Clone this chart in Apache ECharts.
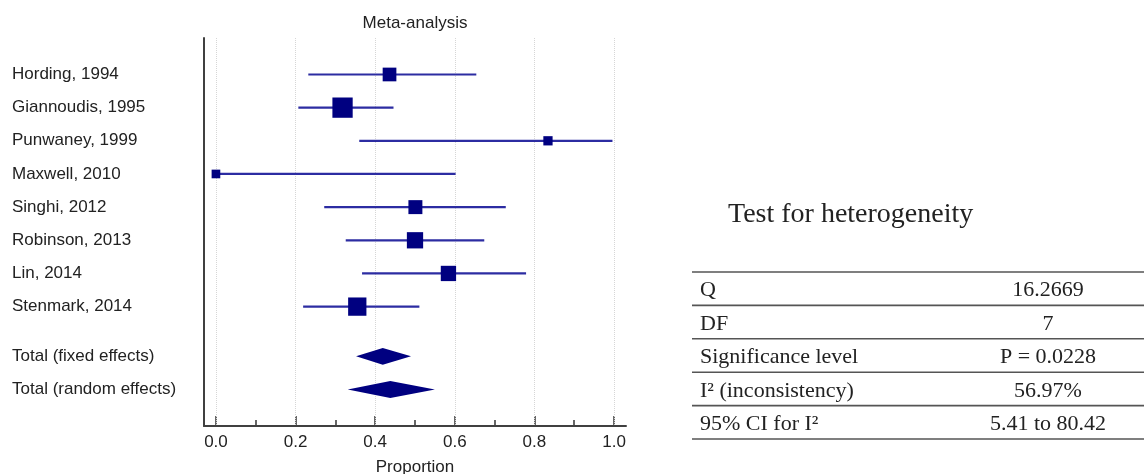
<!DOCTYPE html>
<html>
<head>
<meta charset="utf-8">
<script src="https://cdn.jsdelivr.net/npm/echarts@6/dist/echarts.min.js"></script>
<style>
html,body{margin:0;padding:0;background:#fff;}
#chart{width:1144px;height:474px;}
</style>
</head>
<body>
<div id="chart"></div>
<script>
// ---- data ----
const studies = ['Hording, 1994','Giannoudis, 1995','Punwaney, 1999','Maxwell, 2010','Singhi, 2012','Robinson, 2013','Lin, 2014','Stenmark, 2014'];
const estimate = [0.436, 0.318, 0.834, 0.000, 0.501, 0.500, 0.584, 0.355];
const ciLow    = [0.232, 0.207, 0.360, 0.000, 0.272, 0.326, 0.367, 0.219];
const ciHigh   = [0.654, 0.446, 0.996, 0.602, 0.728, 0.674, 0.779, 0.511];
const weights  = [10.5, 23.0, 4.8, 4.2, 10.9, 14.8, 13.1, 18.7];
const totals   = ['Total (fixed effects)','Total (random effects)'];
const totalEst = [0.419, 0.438];
const totalLow = [0.352, 0.331];
const totalHigh= [0.490, 0.550];
const majorTicks = [0, 0.2, 0.4, 0.6, 0.8, 1.0];
const minorTicks = [0.1, 0.3, 0.5, 0.7, 0.9];
const tableLabels = ['Q','DF','Significance level','I\u00B2 (inconsistency)','95% CI for I\u00B2'];
const tableValues = ['16.2669','7','P = 0.0228','56.97%','5.41 to 80.42'];

// ---- layout helpers ----
const studyRows = studies.map((_, i) => i);
const totalRows = totals.map((_, j) => 8.5 + j);
const rowNames = {};
studyRows.forEach((r, i) => rowNames[r] = studies[i]);
totalRows.forEach((r, j) => rowNames[r] = totals[j]);

const navy = '#000080';
const ciColor = '#2c2ca2';
const axisColor = '#404040';
const sans = '"Liberation Sans", Arial, sans-serif';
const serif = '"Liberation Serif", "Times New Roman", serif';

const chart = echarts.init(document.getElementById('chart'), null, {renderer: 'canvas'});

const studyData = studies.map((_, i) => [estimate[i], ciLow[i], ciHigh[i], studyRows[i], weights[i]]);
const totalData = totals.map((_, j) => [totalEst[j], totalLow[j], totalHigh[j], totalRows[j]]);

// table graphics
const tg = [];
const tableX0 = 692, tableX1 = 1144, ruleTop = 272, rowH = 33.4, valueX = 1048;
tg.push({type:'text', left: 728, top: 201, style:{text:'Test for heterogeneity', font:'28px ' + serif, fill:'#222'}});
for (let k = 0; k <= tableLabels.length; k++) {
  const y = ruleTop + k * rowH;
  tg.push({type:'line', shape:{x1:tableX0, y1:y, x2:tableX1, y2:y}, style:{stroke:'#555', lineWidth:1.6}});
}
tableLabels.forEach((lab, k) => {
  const yc = ruleTop + (k + 0.5) * rowH + 2;
  tg.push({type:'text', x: 700, y: yc, style:{text: lab, font:'22px ' + serif, fill:'#222', textAlign:'left', textVerticalAlign:'middle'}});
  tg.push({type:'text', x: valueX, y: yc, style:{text: tableValues[k], font:'22px ' + serif, fill:'#222', textAlign:'center', textVerticalAlign:'middle'}});
});
tg.push({type:'text', x: 415, y: 23, style:{text:'Meta-analysis', font:'17px ' + sans, fill:'#222', textAlign:'center', textVerticalAlign:'middle'}});

const option = {
  animation: false,
  backgroundColor: '#fff',
  grid: {left: 204, right: 518, top: 38, bottom: 48, containLabel: false, outerBoundsMode: 'none'},
  xAxis: [{
    type: 'value', min: -0.03, max: 1.03,
    name: 'Proportion', nameLocation: 'middle', nameGap: 33,
    nameTextStyle: {fontFamily: sans, fontSize: 17, color: '#222'},
    axisLine: {show: true, onZero: false, lineStyle: {color: axisColor, width: 2}},
    axisTick: {show: true, inside: true, length: 10, customValues: majorTicks, lineStyle: {color: axisColor, width: 1.6}},
    axisLabel: {show: true, customValues: majorTicks, margin: 8, fontFamily: sans, fontSize: 17, color: '#222',
      formatter: v => v.toFixed(1)},
    splitLine: {show: false}
  }, {
    type: 'value', min: -0.03, max: 1.03, position: 'bottom',
    axisLine: {show: false, onZero: false},
    axisTick: {show: true, inside: true, length: 6, customValues: minorTicks, lineStyle: {color: axisColor, width: 1.6}},
    axisLabel: {show: false},
    splitLine: {show: false}
  }],
  yAxis: {
    type: 'value', inverse: true, min: -1.1, max: 10.6,
    axisLine: {show: true, onZero: false, lineStyle: {color: axisColor, width: 2}},
    axisTick: {show: false},
    splitLine: {show: false},
    axisLabel: {show: true, customValues: studyRows.concat(totalRows), align: 'left', margin: 192,
      fontFamily: sans, fontSize: 17, color: '#222',
      formatter: v => rowNames[v] || ''}
  },
  graphic: tg,
  series: [
    {
      type: 'scatter', data: [], z: 0, silent: true,
      markLine: {
        z: 1, silent: true, symbol: ['none','none'], label: {show: false},
        lineStyle: {type: 'dotted', color: '#d6d6d6', width: 1},
        data: majorTicks.map(v => ({xAxis: v}))
      }
    },
    {
      type: 'custom', z: 3, data: studyData, clip: false,
      renderItem: function (params, api) {
        const est = api.value(0), lo = api.value(1), hi = api.value(2), row = api.value(3), w = api.value(4);
        const pLo = api.coord([lo, row]), pHi = api.coord([hi, row]), pC = api.coord([est, row]);
        const s = 4.23 * Math.sqrt(w);
        return {type: 'group', children: [
          {type: 'line', shape: {x1: pLo[0], y1: pLo[1], x2: pHi[0], y2: pHi[1]}, style: {stroke: ciColor, lineWidth: 2.2}},
          {type: 'rect', shape: {x: pC[0] - s / 2, y: pC[1] - s / 2, width: s, height: s}, style: {fill: navy}}
        ]};
      }
    },
    {
      type: 'custom', z: 3, data: totalData,
      renderItem: function (params, api) {
        const est = api.value(0), lo = api.value(1), hi = api.value(2), row = api.value(3);
        const pLo = api.coord([lo, row]), pHi = api.coord([hi, row]), pC = api.coord([est, row]);
        const h = 8.4;
        return {type: 'polygon', shape: {points: [[pLo[0], pLo[1]], [pC[0], pC[1] - h], [pHi[0], pHi[1]], [pC[0], pC[1] + h]]},
          style: {fill: navy}};
      }
    }
  ]
};
chart.setOption(option);
</script>
</body>
</html>
